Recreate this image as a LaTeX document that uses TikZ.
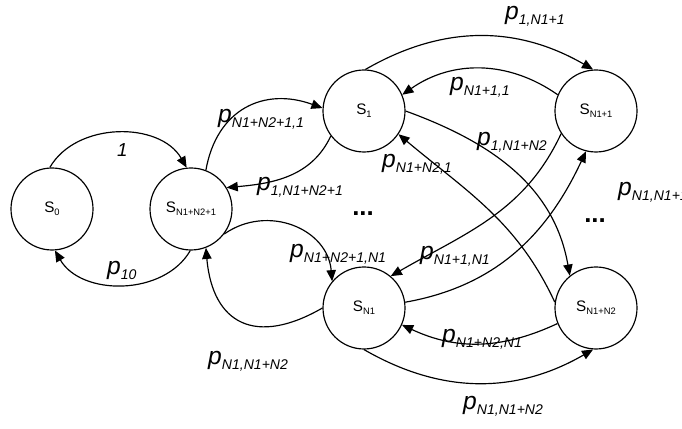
\documentclass[tikz,border=0pt]{standalone}
\usepackage{fontspec}
\setmainfont{Liberation Sans}
\usetikzlibrary{arrows.meta}
\newcommand{\plab}[1]{{\fontsize{21}{21}\selectfont\itshape p}\raisebox{-3.5pt}{\fontsize{12}{12}\selectfont\itshape #1}}
\newcommand{\sname}[1]{S\raisebox{-2.5pt}{\fontsize{8}{8}\selectfont #1}}

\begin{document}
\begin{tikzpicture}[x=0.03cm,y=0.03cm,
	state/.style={circle,draw,line width=1pt,minimum size=2.46cm,inner sep=0pt,font=\fontsize{13}{13}\selectfont},
	trans/.style={-{Triangle[length=9.5pt,width=8pt]},line width=1pt},
	plabel/.style={anchor=base west,inner sep=0pt},
	dots/.style={inner sep=0pt,font=\fontsize{22}{22}\selectfont\bfseries}]
\useasboundingbox (0,0) rectangle (682,429);

\node[state] (s0) at (52,220) {\sname{0}};
\node[state] (sf) at (191,220) {\sname{N1+N2+1}};
\node[state] (s1) at (364,318) {\sname{1}};
\node[state] (sa) at (596,318) {\sname{N1+1}};
\node[state] (sn) at (364,121) {\sname{N1}};
\node[state] (sb) at (596,121) {\sname{N1+N2}};

\draw[trans] (s0.93) to[out=60,in=120] (sf.96);
\draw[trans] (sf.-91) to[out=-120,in=-60] (s0.-86);
\draw[trans] (sf.69) to[out=80,in=160,looseness=1.2] (s1.176);
\draw[trans] (s1.217) to[out=-115,in=5] (sf.31);
\draw[trans] (sf.-37) to[out=35,in=95,looseness=1.15] (sn.140);
\draw[trans] (sn.180) to[out=210,in=-85,looseness=1.5] (sf.-69);
\draw[trans] (s1.88) to[out=30,in=150] (sa.94);
\draw[trans] (sa.157) to[out=145,in=35] (s1.23);
\draw[trans] (s1.0) to[out=-20,in=100] (sb.129);
\draw[trans] (sb.172) to[out=115,in=-40] (s1.-34);
\draw[trans] (sn.8) to[out=10,in=-115] (sa.-104);
\draw[trans] (sa.213) to[out=-115,in=30] (sn.50);
\draw[trans] (sb.202) to[out=-155,in=-25] (sn.-24);
\draw[trans] (sn.-90) to[out=-30,in=-150] (sb.-94);

\node[plabel] (l0f) at (117,272) {\fontsize{16}{16}\selectfont\itshape 1};
\node[plabel] (lf0) at (107,154) {\plab{10}};
\node[plabel] (lf1) at (218,306) {\plab{N1+N2+1,1}};
\node[plabel] (l1f) at (257,238) {\plab{1,N1+N2+1}};
\node[plabel] (lfn) at (290,171) {\plab{N1+N2+1,N1}};
\node[plabel] (lnf) at (208,64) {\plab{N1,N1+N2}};
\node[plabel] (l1a) at (505,409) {\plab{1,N1+1}};
\node[plabel] (la1) at (450,338) {\plab{N1+1,1}};
\node[plabel] (l1b) at (477,283) {\plab{1,N1+N2}};
\node[plabel] (lb1) at (382,261) {\plab{N1+N2,1}};
\node[plabel] (lna) at (618,233) {\plab{N1,N1+1}};
\node[plabel] (lan) at (420,169) {\plab{N1+1,N1}};
\node[plabel] (lbn) at (442,86) {\plab{N1+N2,N1}};
\node[plabel] (lnb) at (463,19) {\plab{N1,N1+N2}};
\node[dots] (d1) at (363,215) {...};
\node[dots] (d2) at (595,208) {...};
\end{tikzpicture}
\end{document}
